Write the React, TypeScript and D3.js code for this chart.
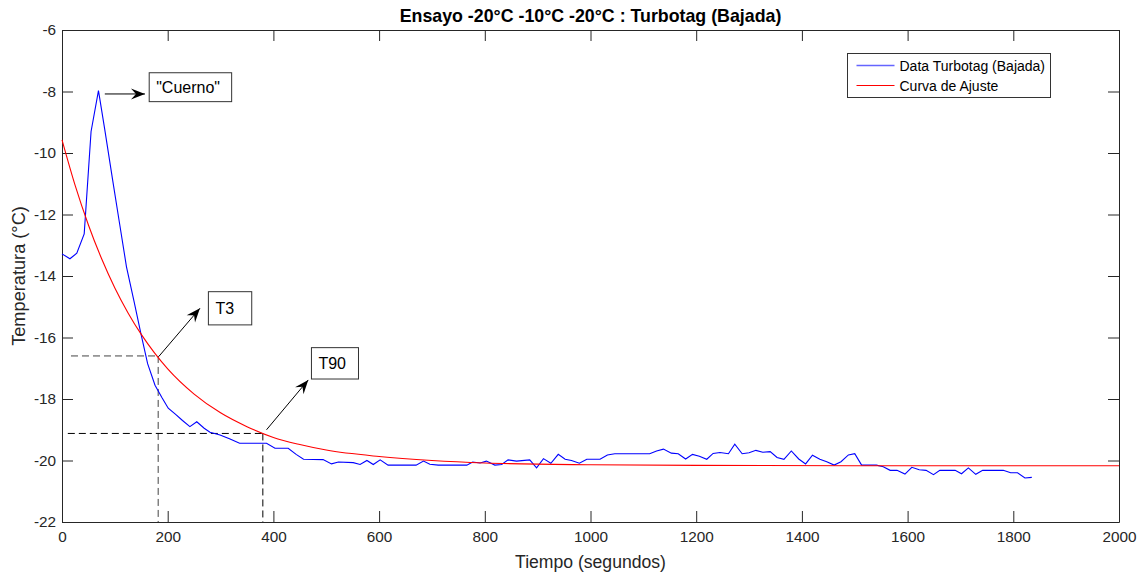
import * as d3 from 'd3';
import { useEffect, useRef } from 'react';

const WIDTH = 1144;
const HEIGHT = 576;
const MARGINS = { top: 30, right: 25, bottom: 54, left: 62 };
const FONT = '"Liberation Sans", Arial, Helvetica, sans-serif';
const AXIS_COLOR = '#262626';

// Turbotag readings (time in s, temperature in °C)
const dataTime = [
  0, 15, 28, 42, 55, 69, 81, 96, 109, 122, 136, 149, 162, 176, 189, 201, 215, 228, 242, 255,
  269, 280, 299, 318, 336, 350, 364, 387, 403, 428, 443, 457, 494, 510, 523, 551, 564, 577, 589, 602,
  617, 670, 684, 696, 712, 766, 777, 791, 803, 819, 832, 844, 860, 885, 898, 911, 925, 939, 952, 964,
  979, 993, 1018, 1032, 1046, 1112, 1125, 1138, 1153, 1166, 1180, 1193, 1206, 1220, 1232, 1245, 1261, 1273, 1287, 1300,
  1313, 1326, 1340, 1353, 1366, 1380, 1394, 1407, 1420, 1434, 1447, 1461, 1474, 1488, 1500, 1513, 1541, 1554, 1567, 1580,
  1595, 1608, 1622, 1635, 1649, 1661, 1690, 1702, 1715, 1729, 1742, 1781, 1795, 1808, 1822, 1835,
];
const dataTemp = [
  -13.28, -13.44, -13.26, -12.63, -9.3, -7.97, -9.25, -10.9, -12.3, -13.7, -14.8, -15.85, -16.85, -17.55, -17.95, -18.3, -18.5, -18.7, -18.9, -18.74,
  -18.95, -19.08, -19.17, -19.3, -19.44, -19.44, -19.44, -19.44, -19.6, -19.6, -19.8, -19.96, -19.97, -20.11, -20.05, -20.07, -20.13, -20.0, -20.13, -19.98,
  -20.15, -20.15, -20.02, -20.12, -20.15, -20.15, -20.05, -20.08, -20.02, -20.15, -20.13, -19.98, -20.02, -19.98, -20.24, -19.94, -20.09, -19.8, -19.96, -20.0,
  -20.09, -19.96, -19.96, -19.82, -19.78, -19.78, -19.69, -19.63, -19.76, -19.78, -19.95, -19.8, -19.86, -19.96, -19.77, -19.74, -19.78, -19.47, -19.78, -19.75,
  -19.67, -19.73, -19.71, -19.9, -19.96, -19.69, -19.95, -20.11, -19.83, -19.96, -20.04, -20.15, -20.04, -19.82, -19.78, -20.15, -20.15, -20.2, -20.32, -20.32,
  -20.44, -20.22, -20.3, -20.32, -20.46, -20.32, -20.32, -20.43, -20.24, -20.45, -20.32, -20.32, -20.4, -20.4, -20.57, -20.55,
];

// fitted curve
const fitTime = [0, 25, 50, 75, 100, 125, 150, 175, 200, 250, 300, 350, 400, 450, 500, 600, 700, 800, 1000, 1200, 1500, 2000];
const fitTemp = [
  -9.57, -11.06, -12.34, -13.44, -14.39, -15.2, -15.9, -16.5, -17.02, -17.84, -18.45, -18.9, -19.25, -19.48, -19.66,
  -19.87, -20.0, -20.08, -20.14, -20.16, -20.17, -20.17,
];

const xTicks = [0, 200, 400, 600, 800, 1000, 1200, 1400, 1600, 1800, 2000];
const yTicks = [-22, -20, -18, -16, -14, -12, -10, -8, -6];

const seriesNames = ['Data Turbotag (Bajada)', 'Curva de Ajuste'];
const seriesColors = ['#0000ff', '#ff0000'];

// T3 / T90 markers: time (s) and temperature (°C)
const markerNames = ['T3', 'T90'];
const markerTime = [182, 380];
const markerTemp = [-16.6, -19.12];
const markerStart = [17, 11];

// annotation text boxes, in data units
const NOTES = [
  { text: '"Cuerno"', t0: 165, t1: 321, v0: -7.39, v1: -8.33, from: [81, -8.08], to: [157, -8.08] },
  { text: 'T3', t0: 277, t1: 359, v0: -14.51, v1: -15.59, from: [183, -16.62], to: [261, -15.05] },
  { text: 'T90', t0: 472, t1: 561, v0: -16.33, v1: -17.35, from: [387, -19.0], to: [466, -17.38] },
];

function arrowHead(x1: number, y1: number, x2: number, y2: number) {
  const a = Math.atan2(y2 - y1, x2 - x1);
  const L = 14;
  const W = 5.5;
  const N = 9;
  const pt = (dx: number, dy: number) =>
    `${x2 + dx * Math.cos(a) - dy * Math.sin(a)},${y2 + dx * Math.sin(a) + dy * Math.cos(a)}`;
  return `M${pt(0, 0)}L${pt(-L, -W)}L${pt(-N, 0)}L${pt(-L, W)}Z`;
}

const plain = (d: d3.NumberValue) => String(d);

export default function App() {
  const x = d3.scaleLinear().domain([0, 2000]).range([MARGINS.left, WIDTH - MARGINS.right]);
  const y = d3.scaleLinear().domain([-22, -6]).range([HEIGHT - MARGINS.bottom, MARGINS.top]);

  const bottomRef = useRef<SVGGElement>(null);
  const topRef = useRef<SVGGElement>(null);
  const leftRef = useRef<SVGGElement>(null);
  const rightRef = useRef<SVGGElement>(null);

  useEffect(() => {
    const style = (sel: d3.Selection<SVGGElement, unknown, null, undefined>) => {
      sel.selectAll('path, line').attr('stroke', AXIS_COLOR);
      sel
        .selectAll('text')
        .attr('fill', AXIS_COLOR)
        .style('font-family', FONT)
        .style('font-size', '15.3px');
    };
    d3.select(bottomRef.current!)
      .call(
        d3.axisBottom(x).tickValues(xTicks).tickFormat(plain).tickSizeInner(-11).tickSizeOuter(0).tickPadding(9),
      )
      .call(style);
    d3.select(topRef.current!)
      .call(d3.axisTop(x).tickValues(xTicks).tickSizeInner(-11).tickSizeOuter(0).tickFormat(() => ''))
      .call(style);
    d3.select(leftRef.current!)
      .call(
        d3.axisLeft(y).tickValues(yTicks).tickFormat(plain).tickSizeInner(-11).tickSizeOuter(0).tickPadding(6),
      )
      .call(style);
    d3.select(rightRef.current!)
      .call(d3.axisRight(y).tickValues(yTicks).tickSizeInner(-11).tickSizeOuter(0).tickFormat(() => ''))
      .call(style);
  });

  const dataLine = d3
    .line<number>()
    .x((_, i) => x(dataTime[i]))
    .y((d) => y(d));
  const fitLine = d3
    .line<number>()
    .x((_, i) => x(fitTime[i]))
    .y((d) => y(d))
    .curve(d3.curveMonotoneX);

  const plotW = WIDTH - MARGINS.left - MARGINS.right;
  const cx = MARGINS.left + plotW / 2;
  const cy = MARGINS.top + (HEIGHT - MARGINS.top - MARGINS.bottom) / 2;

  return (
    <svg
      width={WIDTH}
      height={HEIGHT}
      style={{ position: 'absolute', left: 0, top: 0, background: '#fff', fontFamily: FONT }}
    >
      <rect x={0} y={0} width={WIDTH} height={HEIGHT} fill='#fff' />
      <g ref={bottomRef} transform={`translate(0,${HEIGHT - MARGINS.bottom})`} />
      <g ref={topRef} transform={`translate(0,${MARGINS.top})`} />
      <g ref={leftRef} transform={`translate(${MARGINS.left},0)`} />
      <g ref={rightRef} transform={`translate(${WIDTH - MARGINS.right},0)`} />

      {/* T3 / T90 guides */}
      {markerNames.map((name, i) => (
        <g key={name} fill='none' stroke={i === 0 ? '#444' : '#000'} strokeWidth={1} strokeDasharray='7,4'>
          <line x1={x(markerStart[i])} x2={x(markerTime[i])} y1={y(markerTemp[i])} y2={y(markerTemp[i])} />
          <line x1={x(markerTime[i])} x2={x(markerTime[i])} y1={y(markerTemp[i])} y2={y(-22)} />
        </g>
      ))}

      <path d={dataLine(dataTemp) ?? ''} fill='none' stroke={seriesColors[0]} strokeWidth={1.1} />
      <path d={fitLine(fitTemp) ?? ''} fill='none' stroke={seriesColors[1]} strokeWidth={1.1} />

      {NOTES.map((n) => {
        const x1 = x(n.from[0]);
        const y1 = y(n.from[1]);
        const x2 = x(n.to[0]);
        const y2 = y(n.to[1]);
        return (
          <g key={n.text}>
            <line x1={x1} y1={y1} x2={x2} y2={y2} stroke='#000' strokeWidth={1} />
            <path d={arrowHead(x1, y1, x2, y2)} fill='#000' />
            <rect
              x={x(n.t0)}
              y={y(n.v0)}
              width={x(n.t1) - x(n.t0)}
              height={y(n.v1) - y(n.v0)}
              fill='#fff'
              stroke='#333'
              strokeWidth={1}
            />
            <text x={x(n.t0) + 7} y={(y(n.v0) + y(n.v1)) / 2 + 5.5} fontSize={16} fill='#000'>
              {n.text}
            </text>
          </g>
        );
      })}

      {/* legend */}
      <g transform='translate(847.5,53.5)'>
        <rect width={203} height={44} fill='#fff' stroke='#333' strokeWidth={1} />
        {seriesNames.map((name, i) => (
          <g key={name} transform={`translate(0,${12 + i * 20})`}>
            <line x1={9} x2={47} y1={0} y2={0} stroke={seriesColors[i]} strokeWidth={i === 0 ? 1.6 : 1} opacity={i === 0 ? 0.6 : 1} />
            <text x={52} y={5} fontSize={14} fill='#000'>
              {name}
            </text>
          </g>
        ))}
      </g>

      <text x={cx} y={22.3} textAnchor='middle' fontSize={17.8} fontWeight='bold' fill='#000'>
        Ensayo -20°C -10°C -20°C : Turbotag (Bajada)
      </text>
      <text x={cx} y={568} textAnchor='middle' fontSize={17.6} fill={AXIS_COLOR}>
        Tiempo (segundos)
      </text>
      <text
        transform={`translate(25,${cy}) rotate(-90)`}
        textAnchor='middle'
        fontSize={18.2}
        fill={AXIS_COLOR}
      >
        Temperatura (°C)
      </text>
    </svg>
  );
}
